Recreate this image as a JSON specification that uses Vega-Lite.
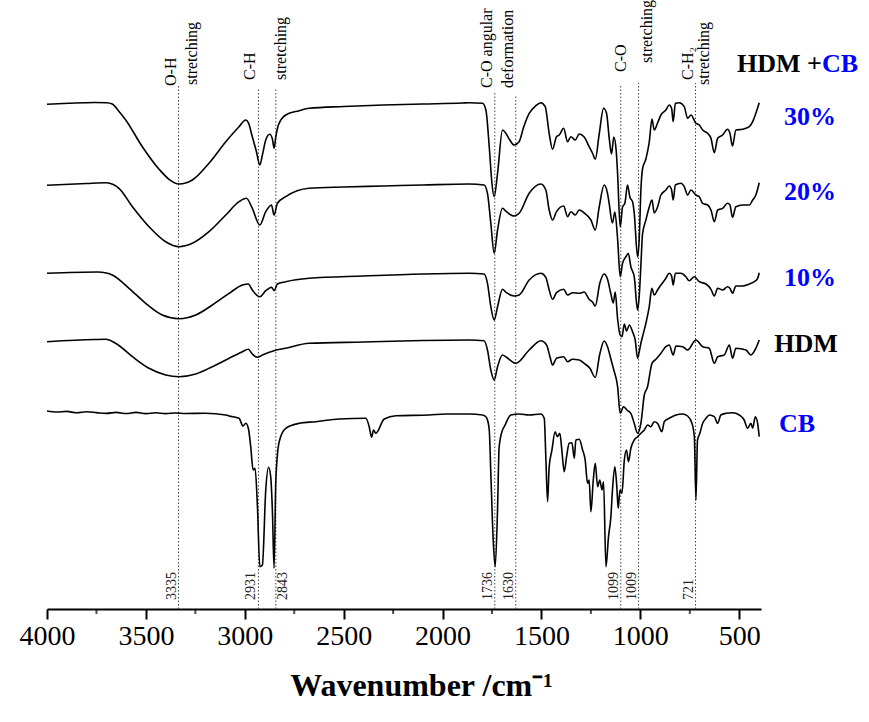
{
"$schema":"https://vega.github.io/schema/vega-lite/v6.json",
"width":714,"height":604,
"autosize":{"type":"none"},
"padding":{"left":47,"top":5,"right":108,"bottom":113},
"background":"white",
"config":{"view":{"stroke":null},"font":"Liberation Serif",
"style":{"guide-label":{"font":"Liberation Serif, Times New Roman, serif","fontSize":28,"fill":"black"},"guide-title":{"font":"Liberation Serif","fontSize":32,"fontWeight":"bold","fill":"black"}},
"axis":{"labelFont":"Liberation Serif, Times New Roman, serif","titleFont":"Liberation Serif","labelFontSize":28,"labelColor":"black","titleFontSize":32,"titleFontWeight":"bold","titleColor":"black"}},
"datasets":{
"spectra":[
{"sample":"30%","wavenumber":4000,"value":504.7},{"sample":"30%","wavenumber":3889,"value":505.7},{"sample":"30%","wavenumber":3760,"value":506.5},{"sample":"30%","wavenumber":3700,"value":506.2},{"sample":"30%","wavenumber":3670,"value":505},{"sample":"30%","wavenumber":3640,"value":498.5},{"sample":"30%","wavenumber":3602,"value":489},{"sample":"30%","wavenumber":3518,"value":462.3},{"sample":"30%","wavenumber":3433,"value":439.7},{"sample":"30%","wavenumber":3383,"value":429.7},{"sample":"30%","wavenumber":3332,"value":425},{"sample":"30%","wavenumber":3265,"value":429},{"sample":"30%","wavenumber":3181,"value":445.7},{"sample":"30%","wavenumber":3096,"value":467.3},{"sample":"30%","wavenumber":3029,"value":482.3},{"sample":"30%","wavenumber":2995,"value":489},{"sample":"30%","wavenumber":2982,"value":486.3},{"sample":"30%","wavenumber":2962,"value":472.3},{"sample":"30%","wavenumber":2941,"value":457.3},{"sample":"30%","wavenumber":2924,"value":444},{"sample":"30%","wavenumber":2911,"value":454},{"sample":"30%","wavenumber":2894,"value":469},{"sample":"30%","wavenumber":2874,"value":474.7},{"sample":"30%","wavenumber":2860,"value":469.7},{"sample":"30%","wavenumber":2852,"value":460.7},{"sample":"30%","wavenumber":2843,"value":472.3},{"sample":"30%","wavenumber":2830,"value":484},{"sample":"30%","wavenumber":2793,"value":494},{"sample":"30%","wavenumber":2725,"value":498.3},{"sample":"30%","wavenumber":2675,"value":500.7},{"sample":"30%","wavenumber":2500,"value":502.5},{"sample":"30%","wavenumber":2300,"value":504},{"sample":"30%","wavenumber":2100,"value":505},{"sample":"30%","wavenumber":1900,"value":506},{"sample":"30%","wavenumber":1865,"value":506.3},{"sample":"30%","wavenumber":1798,"value":505.7},{"sample":"30%","wavenumber":1781,"value":499},{"sample":"30%","wavenumber":1764,"value":462.3},{"sample":"30%","wavenumber":1750,"value":425},{"sample":"30%","wavenumber":1739,"value":412.3},{"sample":"30%","wavenumber":1722,"value":435.7},{"sample":"30%","wavenumber":1697,"value":479},{"sample":"30%","wavenumber":1680,"value":475.7},{"sample":"30%","wavenumber":1660,"value":469},{"sample":"30%","wavenumber":1638,"value":464},{"sample":"30%","wavenumber":1613,"value":467.3},{"sample":"30%","wavenumber":1590,"value":482},{"sample":"30%","wavenumber":1562,"value":495.7},{"sample":"30%","wavenumber":1530,"value":503},{"sample":"30%","wavenumber":1503,"value":506.3},{"sample":"30%","wavenumber":1481,"value":502.3},{"sample":"30%","wavenumber":1461,"value":475.7},{"sample":"30%","wavenumber":1444,"value":459.7},{"sample":"30%","wavenumber":1424,"value":472.3},{"sample":"30%","wavenumber":1410,"value":474},{"sample":"30%","wavenumber":1388,"value":480.7},{"sample":"30%","wavenumber":1368,"value":467.3},{"sample":"30%","wavenumber":1351,"value":472.3},{"sample":"30%","wavenumber":1329,"value":469},{"sample":"30%","wavenumber":1309,"value":475},{"sample":"30%","wavenumber":1284,"value":472},{"sample":"30%","wavenumber":1259,"value":462.3},{"sample":"30%","wavenumber":1240,"value":455},{"sample":"30%","wavenumber":1228,"value":449.7},{"sample":"30%","wavenumber":1208,"value":475},{"sample":"30%","wavenumber":1186,"value":500.7},{"sample":"30%","wavenumber":1171,"value":495.7},{"sample":"30%","wavenumber":1157,"value":470},{"sample":"30%","wavenumber":1146,"value":455},{"sample":"30%","wavenumber":1134,"value":472},{"sample":"30%","wavenumber":1122,"value":458},{"sample":"30%","wavenumber":1115,"value":435},{"sample":"30%","wavenumber":1102,"value":382},{"sample":"30%","wavenumber":1090,"value":402},{"sample":"30%","wavenumber":1078,"value":406},{"sample":"30%","wavenumber":1065,"value":424},{"sample":"30%","wavenumber":1053,"value":412},{"sample":"30%","wavenumber":1039,"value":407},{"sample":"30%","wavenumber":1031,"value":396},{"sample":"30%","wavenumber":1014,"value":352},{"sample":"30%","wavenumber":1006,"value":369},{"sample":"30%","wavenumber":997,"value":420},{"sample":"30%","wavenumber":989,"value":440},{"sample":"30%","wavenumber":972,"value":450},{"sample":"30%","wavenumber":955,"value":467},{"sample":"30%","wavenumber":941,"value":490},{"sample":"30%","wavenumber":930,"value":479},{"sample":"30%","wavenumber":913,"value":486},{"sample":"30%","wavenumber":896,"value":494},{"sample":"30%","wavenumber":871,"value":499},{"sample":"30%","wavenumber":854,"value":504},{"sample":"30%","wavenumber":842,"value":500.7},{"sample":"30%","wavenumber":834,"value":487.3},{"sample":"30%","wavenumber":823,"value":505.7},{"sample":"30%","wavenumber":803,"value":506.3},{"sample":"30%","wavenumber":778,"value":502.3},{"sample":"30%","wavenumber":761,"value":490.7},{"sample":"30%","wavenumber":744,"value":494},{"sample":"30%","wavenumber":719,"value":485.7},{"sample":"30%","wavenumber":702,"value":484},{"sample":"30%","wavenumber":685,"value":479},{"sample":"30%","wavenumber":660,"value":475.7},{"sample":"30%","wavenumber":643,"value":470.7},{"sample":"30%","wavenumber":626,"value":456.3},{"sample":"30%","wavenumber":609,"value":470.7},{"sample":"30%","wavenumber":584,"value":474},{"sample":"30%","wavenumber":559,"value":479.7},{"sample":"30%","wavenumber":547,"value":475.7},{"sample":"30%","wavenumber":534,"value":463},{"sample":"30%","wavenumber":517,"value":479},{"sample":"30%","wavenumber":483,"value":479.7},{"sample":"30%","wavenumber":449,"value":482.3},{"sample":"30%","wavenumber":432,"value":487.3},{"sample":"30%","wavenumber":416,"value":495.7},{"sample":"30%","wavenumber":399,"value":506.3},
{"sample":"20%","wavenumber":4000,"value":423.7},{"sample":"20%","wavenumber":3800,"value":425.5},{"sample":"20%","wavenumber":3700,"value":426.2},{"sample":"20%","wavenumber":3665,"value":424.5},{"sample":"20%","wavenumber":3636,"value":420.7},{"sample":"20%","wavenumber":3568,"value":402.3},{"sample":"20%","wavenumber":3484,"value":382.3},{"sample":"20%","wavenumber":3400,"value":367.3},{"sample":"20%","wavenumber":3332,"value":362.3},{"sample":"20%","wavenumber":3265,"value":365.7},{"sample":"20%","wavenumber":3181,"value":377.3},{"sample":"20%","wavenumber":3096,"value":394},{"sample":"20%","wavenumber":3029,"value":407.3},{"sample":"20%","wavenumber":2992,"value":410.7},{"sample":"20%","wavenumber":2962,"value":400.7},{"sample":"20%","wavenumber":2924,"value":384},{"sample":"20%","wavenumber":2894,"value":397.3},{"sample":"20%","wavenumber":2865,"value":404},{"sample":"20%","wavenumber":2852,"value":394},{"sample":"20%","wavenumber":2835,"value":405.7},{"sample":"20%","wavenumber":2793,"value":412.3},{"sample":"20%","wavenumber":2675,"value":420.7},{"sample":"20%","wavenumber":2500,"value":422},{"sample":"20%","wavenumber":2300,"value":423},{"sample":"20%","wavenumber":2100,"value":424},{"sample":"20%","wavenumber":1865,"value":425},{"sample":"20%","wavenumber":1790,"value":424},{"sample":"20%","wavenumber":1773,"value":415.7},{"sample":"20%","wavenumber":1756,"value":385.7},{"sample":"20%","wavenumber":1739,"value":355.7},{"sample":"20%","wavenumber":1722,"value":379},{"sample":"20%","wavenumber":1697,"value":400.7},{"sample":"20%","wavenumber":1677,"value":397.3},{"sample":"20%","wavenumber":1638,"value":393},{"sample":"20%","wavenumber":1613,"value":395.7},{"sample":"20%","wavenumber":1562,"value":415.7},{"sample":"20%","wavenumber":1503,"value":425},{"sample":"20%","wavenumber":1478,"value":419},{"sample":"20%","wavenumber":1461,"value":399},{"sample":"20%","wavenumber":1444,"value":389},{"sample":"20%","wavenumber":1424,"value":397.3},{"sample":"20%","wavenumber":1388,"value":403},{"sample":"20%","wavenumber":1368,"value":392.3},{"sample":"20%","wavenumber":1351,"value":397.3},{"sample":"20%","wavenumber":1329,"value":394},{"sample":"20%","wavenumber":1309,"value":399},{"sample":"20%","wavenumber":1284,"value":396},{"sample":"20%","wavenumber":1250,"value":389},{"sample":"20%","wavenumber":1228,"value":379},{"sample":"20%","wavenumber":1208,"value":402},{"sample":"20%","wavenumber":1183,"value":424},{"sample":"20%","wavenumber":1166,"value":415.7},{"sample":"20%","wavenumber":1158,"value":406},{"sample":"20%","wavenumber":1141,"value":386},{"sample":"20%","wavenumber":1129,"value":397},{"sample":"20%","wavenumber":1115,"value":370},{"sample":"20%","wavenumber":1102,"value":332.3},{"sample":"20%","wavenumber":1090,"value":345.7},{"sample":"20%","wavenumber":1073,"value":352.3},{"sample":"20%","wavenumber":1061,"value":355.7},{"sample":"20%","wavenumber":1048,"value":342.3},{"sample":"20%","wavenumber":1031,"value":332.3},{"sample":"20%","wavenumber":1014,"value":299},{"sample":"20%","wavenumber":1005,"value":315},{"sample":"20%","wavenumber":997,"value":345},{"sample":"20%","wavenumber":989,"value":375},{"sample":"20%","wavenumber":972,"value":389},{"sample":"20%","wavenumber":955,"value":402},{"sample":"20%","wavenumber":941,"value":409},{"sample":"20%","wavenumber":930,"value":396},{"sample":"20%","wavenumber":913,"value":402},{"sample":"20%","wavenumber":896,"value":414},{"sample":"20%","wavenumber":871,"value":419},{"sample":"20%","wavenumber":854,"value":423},{"sample":"20%","wavenumber":842,"value":419},{"sample":"20%","wavenumber":834,"value":409},{"sample":"20%","wavenumber":823,"value":424},{"sample":"20%","wavenumber":795,"value":425.7},{"sample":"20%","wavenumber":778,"value":422.3},{"sample":"20%","wavenumber":761,"value":414},{"sample":"20%","wavenumber":744,"value":419},{"sample":"20%","wavenumber":719,"value":414},{"sample":"20%","wavenumber":702,"value":412.3},{"sample":"20%","wavenumber":685,"value":405.7},{"sample":"20%","wavenumber":660,"value":404},{"sample":"20%","wavenumber":643,"value":399},{"sample":"20%","wavenumber":626,"value":387.3},{"sample":"20%","wavenumber":609,"value":399},{"sample":"20%","wavenumber":584,"value":400.7},{"sample":"20%","wavenumber":559,"value":405.7},{"sample":"20%","wavenumber":547,"value":404},{"sample":"20%","wavenumber":534,"value":391.7},{"sample":"20%","wavenumber":517,"value":402.3},{"sample":"20%","wavenumber":483,"value":404},{"sample":"20%","wavenumber":449,"value":404},{"sample":"20%","wavenumber":432,"value":409},{"sample":"20%","wavenumber":416,"value":414},{"sample":"20%","wavenumber":399,"value":426.3},
{"sample":"10%","wavenumber":4000,"value":335.7},{"sample":"10%","wavenumber":3745,"value":337},{"sample":"10%","wavenumber":3700,"value":336},{"sample":"10%","wavenumber":3670,"value":334},{"sample":"10%","wavenumber":3585,"value":320.7},{"sample":"10%","wavenumber":3501,"value":305.7},{"sample":"10%","wavenumber":3417,"value":294},{"sample":"10%","wavenumber":3332,"value":290.3},{"sample":"10%","wavenumber":3248,"value":294},{"sample":"10%","wavenumber":3164,"value":304},{"sample":"10%","wavenumber":3079,"value":315.7},{"sample":"10%","wavenumber":3012,"value":324},{"sample":"10%","wavenumber":2982,"value":325},{"sample":"10%","wavenumber":2962,"value":319},{"sample":"10%","wavenumber":2924,"value":312.3},{"sample":"10%","wavenumber":2894,"value":318.3},{"sample":"10%","wavenumber":2864,"value":321.7},{"sample":"10%","wavenumber":2852,"value":318.3},{"sample":"10%","wavenumber":2835,"value":325},{"sample":"10%","wavenumber":2793,"value":327.3},{"sample":"10%","wavenumber":2675,"value":330.7},{"sample":"10%","wavenumber":2400,"value":333},{"sample":"10%","wavenumber":2100,"value":335},{"sample":"10%","wavenumber":1865,"value":335.7},{"sample":"10%","wavenumber":1790,"value":335},{"sample":"10%","wavenumber":1773,"value":325.7},{"sample":"10%","wavenumber":1756,"value":302.3},{"sample":"10%","wavenumber":1739,"value":289},{"sample":"10%","wavenumber":1722,"value":302.3},{"sample":"10%","wavenumber":1697,"value":319.7},{"sample":"10%","wavenumber":1677,"value":316.3},{"sample":"10%","wavenumber":1638,"value":313},{"sample":"10%","wavenumber":1613,"value":314},{"sample":"10%","wavenumber":1562,"value":329},{"sample":"10%","wavenumber":1503,"value":335.7},{"sample":"10%","wavenumber":1478,"value":331.7},{"sample":"10%","wavenumber":1461,"value":319},{"sample":"10%","wavenumber":1444,"value":309.7},{"sample":"10%","wavenumber":1424,"value":316.3},{"sample":"10%","wavenumber":1388,"value":319.7},{"sample":"10%","wavenumber":1368,"value":314},{"sample":"10%","wavenumber":1343,"value":316.3},{"sample":"10%","wavenumber":1309,"value":315.7},{"sample":"10%","wavenumber":1284,"value":317},{"sample":"10%","wavenumber":1259,"value":309.7},{"sample":"10%","wavenumber":1242,"value":307},{"sample":"10%","wavenumber":1228,"value":303},{"sample":"10%","wavenumber":1205,"value":325.7},{"sample":"10%","wavenumber":1183,"value":335},{"sample":"10%","wavenumber":1166,"value":329.7},{"sample":"10%","wavenumber":1149,"value":315},{"sample":"10%","wavenumber":1137,"value":306},{"sample":"10%","wavenumber":1127,"value":317},{"sample":"10%","wavenumber":1115,"value":290},{"sample":"10%","wavenumber":1102,"value":274},{"sample":"10%","wavenumber":1093,"value":272.3},{"sample":"10%","wavenumber":1081,"value":285},{"sample":"10%","wavenumber":1070,"value":278},{"sample":"10%","wavenumber":1056,"value":284},{"sample":"10%","wavenumber":1039,"value":277},{"sample":"10%","wavenumber":1026,"value":269},{"sample":"10%","wavenumber":1014,"value":250.7},{"sample":"10%","wavenumber":1005,"value":258},{"sample":"10%","wavenumber":997,"value":266},{"sample":"10%","wavenumber":989,"value":272.3},{"sample":"10%","wavenumber":972,"value":285.7},{"sample":"10%","wavenumber":955,"value":302.3},{"sample":"10%","wavenumber":942,"value":320.7},{"sample":"10%","wavenumber":930,"value":314},{"sample":"10%","wavenumber":913,"value":319},{"sample":"10%","wavenumber":896,"value":324},{"sample":"10%","wavenumber":871,"value":330.7},{"sample":"10%","wavenumber":854,"value":335.7},{"sample":"10%","wavenumber":842,"value":333},{"sample":"10%","wavenumber":834,"value":324},{"sample":"10%","wavenumber":823,"value":335.7},{"sample":"10%","wavenumber":795,"value":335.7},{"sample":"10%","wavenumber":770,"value":332.3},{"sample":"10%","wavenumber":753,"value":328.3},{"sample":"10%","wavenumber":727,"value":332.3},{"sample":"10%","wavenumber":702,"value":327.3},{"sample":"10%","wavenumber":668,"value":325},{"sample":"10%","wavenumber":643,"value":319.7},{"sample":"10%","wavenumber":626,"value":313},{"sample":"10%","wavenumber":609,"value":320.7},{"sample":"10%","wavenumber":584,"value":319},{"sample":"10%","wavenumber":559,"value":322.3},{"sample":"10%","wavenumber":547,"value":320.7},{"sample":"10%","wavenumber":534,"value":315.7},{"sample":"10%","wavenumber":517,"value":323},{"sample":"10%","wavenumber":483,"value":323},{"sample":"10%","wavenumber":449,"value":325},{"sample":"10%","wavenumber":424,"value":327.3},{"sample":"10%","wavenumber":407,"value":330.7},{"sample":"10%","wavenumber":399,"value":336.3},
{"sample":"HDM","wavenumber":4000,"value":267.3},{"sample":"HDM","wavenumber":3760,"value":269.5},{"sample":"HDM","wavenumber":3703,"value":269.7},{"sample":"HDM","wavenumber":3653,"value":265.7},{"sample":"HDM","wavenumber":3568,"value":252.3},{"sample":"HDM","wavenumber":3484,"value":240.7},{"sample":"HDM","wavenumber":3400,"value":234},{"sample":"HDM","wavenumber":3332,"value":232.3},{"sample":"HDM","wavenumber":3248,"value":235},{"sample":"HDM","wavenumber":3164,"value":242.3},{"sample":"HDM","wavenumber":3079,"value":250.7},{"sample":"HDM","wavenumber":3012,"value":257.3},{"sample":"HDM","wavenumber":2982,"value":259.7},{"sample":"HDM","wavenumber":2962,"value":255},{"sample":"HDM","wavenumber":2936,"value":251.7},{"sample":"HDM","wavenumber":2911,"value":254},{"sample":"HDM","wavenumber":2852,"value":258.3},{"sample":"HDM","wavenumber":2793,"value":260.7},{"sample":"HDM","wavenumber":2675,"value":265.7},{"sample":"HDM","wavenumber":2400,"value":267},{"sample":"HDM","wavenumber":2100,"value":268.5},{"sample":"HDM","wavenumber":1865,"value":269},{"sample":"HDM","wavenumber":1790,"value":268.3},{"sample":"HDM","wavenumber":1773,"value":259},{"sample":"HDM","wavenumber":1756,"value":239},{"sample":"HDM","wavenumber":1739,"value":229},{"sample":"HDM","wavenumber":1722,"value":242.3},{"sample":"HDM","wavenumber":1697,"value":254},{"sample":"HDM","wavenumber":1677,"value":251.7},{"sample":"HDM","wavenumber":1629,"value":245.7},{"sample":"HDM","wavenumber":1562,"value":259},{"sample":"HDM","wavenumber":1503,"value":268.3},{"sample":"HDM","wavenumber":1474,"value":264},{"sample":"HDM","wavenumber":1457,"value":252.3},{"sample":"HDM","wavenumber":1444,"value":244},{"sample":"HDM","wavenumber":1424,"value":250.7},{"sample":"HDM","wavenumber":1388,"value":252.3},{"sample":"HDM","wavenumber":1368,"value":247.3},{"sample":"HDM","wavenumber":1343,"value":249.7},{"sample":"HDM","wavenumber":1309,"value":249},{"sample":"HDM","wavenumber":1284,"value":245.7},{"sample":"HDM","wavenumber":1255,"value":240.7},{"sample":"HDM","wavenumber":1228,"value":231.5},{"sample":"HDM","wavenumber":1205,"value":255},{"sample":"HDM","wavenumber":1183,"value":268},{"sample":"HDM","wavenumber":1166,"value":262.3},{"sample":"HDM","wavenumber":1149,"value":250},{"sample":"HDM","wavenumber":1135,"value":239.5},{"sample":"HDM","wavenumber":1115,"value":222.3},{"sample":"HDM","wavenumber":1102,"value":195.7},{"sample":"HDM","wavenumber":1085,"value":202.3},{"sample":"HDM","wavenumber":1068,"value":199},{"sample":"HDM","wavenumber":1048,"value":195.7},{"sample":"HDM","wavenumber":1031,"value":185.7},{"sample":"HDM","wavenumber":1014,"value":175.7},{"sample":"HDM","wavenumber":997,"value":186},{"sample":"HDM","wavenumber":980,"value":214},{"sample":"HDM","wavenumber":964,"value":222},{"sample":"HDM","wavenumber":941,"value":245.7},{"sample":"HDM","wavenumber":920,"value":250},{"sample":"HDM","wavenumber":896,"value":255.7},{"sample":"HDM","wavenumber":871,"value":262.3},{"sample":"HDM","wavenumber":854,"value":264},{"sample":"HDM","wavenumber":834,"value":254},{"sample":"HDM","wavenumber":820,"value":263},{"sample":"HDM","wavenumber":786,"value":262.3},{"sample":"HDM","wavenumber":761,"value":259},{"sample":"HDM","wavenumber":719,"value":269},{"sample":"HDM","wavenumber":685,"value":262.3},{"sample":"HDM","wavenumber":652,"value":260.7},{"sample":"HDM","wavenumber":626,"value":245.7},{"sample":"HDM","wavenumber":609,"value":252.3},{"sample":"HDM","wavenumber":576,"value":254},{"sample":"HDM","wavenumber":550,"value":264},{"sample":"HDM","wavenumber":534,"value":250.7},{"sample":"HDM","wavenumber":517,"value":260.7},{"sample":"HDM","wavenumber":466,"value":259},{"sample":"HDM","wavenumber":441,"value":254},{"sample":"HDM","wavenumber":416,"value":260.7},{"sample":"HDM","wavenumber":399,"value":269},
{"sample":"CB","wavenumber":4000,"value":198},{"sample":"CB","wavenumber":3950,"value":197},{"sample":"CB","wavenumber":3900,"value":197.6},{"sample":"CB","wavenumber":3850,"value":196.2},{"sample":"CB","wavenumber":3800,"value":197.2},{"sample":"CB","wavenumber":3750,"value":196.4},{"sample":"CB","wavenumber":3700,"value":195.6},{"sample":"CB","wavenumber":3650,"value":196.6},{"sample":"CB","wavenumber":3600,"value":195.5},{"sample":"CB","wavenumber":3550,"value":196.6},{"sample":"CB","wavenumber":3500,"value":195.4},{"sample":"CB","wavenumber":3450,"value":196.2},{"sample":"CB","wavenumber":3400,"value":195.4},{"sample":"CB","wavenumber":3350,"value":196},{"sample":"CB","wavenumber":3300,"value":195.5},{"sample":"CB","wavenumber":3200,"value":195.7},{"sample":"CB","wavenumber":3096,"value":194},{"sample":"CB","wavenumber":3079,"value":193},{"sample":"CB","wavenumber":3029,"value":190.7},{"sample":"CB","wavenumber":3009,"value":183},{"sample":"CB","wavenumber":2995,"value":185.7},{"sample":"CB","wavenumber":2982,"value":180.7},{"sample":"CB","wavenumber":2970,"value":162.3},{"sample":"CB","wavenumber":2958,"value":139},{"sample":"CB","wavenumber":2948,"value":140.7},{"sample":"CB","wavenumber":2936,"value":102.3},{"sample":"CB","wavenumber":2924,"value":42.3},{"sample":"CB","wavenumber":2911,"value":44},{"sample":"CB","wavenumber":2894,"value":119},{"sample":"CB","wavenumber":2880,"value":141.7},{"sample":"CB","wavenumber":2869,"value":132.3},{"sample":"CB","wavenumber":2860,"value":95.7},{"sample":"CB","wavenumber":2852,"value":40.7},{"sample":"CB","wavenumber":2843,"value":129},{"sample":"CB","wavenumber":2826,"value":167.3},{"sample":"CB","wavenumber":2793,"value":180.7},{"sample":"CB","wavenumber":2725,"value":185.7},{"sample":"CB","wavenumber":2641,"value":187.3},{"sample":"CB","wavenumber":2523,"value":190},{"sample":"CB","wavenumber":2388,"value":190.7},{"sample":"CB","wavenumber":2371,"value":182.3},{"sample":"CB","wavenumber":2359,"value":171.7},{"sample":"CB","wavenumber":2349,"value":179},{"sample":"CB","wavenumber":2338,"value":175.7},{"sample":"CB","wavenumber":2295,"value":190},{"sample":"CB","wavenumber":2236,"value":193.3},{"sample":"CB","wavenumber":2068,"value":194},{"sample":"CB","wavenumber":1983,"value":195},{"sample":"CB","wavenumber":1865,"value":195},{"sample":"CB","wavenumber":1798,"value":194},{"sample":"CB","wavenumber":1781,"value":192.3},{"sample":"CB","wavenumber":1773,"value":189},{"sample":"CB","wavenumber":1764,"value":179},{"sample":"CB","wavenumber":1756,"value":135.7},{"sample":"CB","wavenumber":1744,"value":69},{"sample":"CB","wavenumber":1734,"value":42.3},{"sample":"CB","wavenumber":1722,"value":100},{"sample":"CB","wavenumber":1714,"value":162},{"sample":"CB","wavenumber":1697,"value":179},{"sample":"CB","wavenumber":1688,"value":182.3},{"sample":"CB","wavenumber":1655,"value":194},{"sample":"CB","wavenumber":1613,"value":195},{"sample":"CB","wavenumber":1562,"value":194},{"sample":"CB","wavenumber":1503,"value":195},{"sample":"CB","wavenumber":1486,"value":190.7},{"sample":"CB","wavenumber":1478,"value":152.3},{"sample":"CB","wavenumber":1469,"value":107.3},{"sample":"CB","wavenumber":1461,"value":142.3},{"sample":"CB","wavenumber":1447,"value":159},{"sample":"CB","wavenumber":1431,"value":177.3},{"sample":"CB","wavenumber":1419,"value":172.3},{"sample":"CB","wavenumber":1407,"value":175.7},{"sample":"CB","wavenumber":1397,"value":159},{"sample":"CB","wavenumber":1385,"value":137.3},{"sample":"CB","wavenumber":1373,"value":152.3},{"sample":"CB","wavenumber":1360,"value":165.7},{"sample":"CB","wavenumber":1346,"value":166.3},{"sample":"CB","wavenumber":1334,"value":150.7},{"sample":"CB","wavenumber":1326,"value":169},{"sample":"CB","wavenumber":1309,"value":169.7},{"sample":"CB","wavenumber":1292,"value":159},{"sample":"CB","wavenumber":1279,"value":149},{"sample":"CB","wavenumber":1267,"value":125.7},{"sample":"CB","wavenumber":1259,"value":129},{"sample":"CB","wavenumber":1250,"value":97.3},{"sample":"CB","wavenumber":1238,"value":129},{"sample":"CB","wavenumber":1228,"value":145.7},{"sample":"CB","wavenumber":1216,"value":122.3},{"sample":"CB","wavenumber":1205,"value":129},{"sample":"CB","wavenumber":1194,"value":119},{"sample":"CB","wavenumber":1186,"value":127.3},{"sample":"CB","wavenumber":1174,"value":42.3},{"sample":"CB","wavenumber":1161,"value":72.3},{"sample":"CB","wavenumber":1149,"value":92.3},{"sample":"CB","wavenumber":1141,"value":119},{"sample":"CB","wavenumber":1129,"value":142.3},{"sample":"CB","wavenumber":1119,"value":122.3},{"sample":"CB","wavenumber":1112,"value":100.7},{"sample":"CB","wavenumber":1103,"value":119},{"sample":"CB","wavenumber":1093,"value":115.7},{"sample":"CB","wavenumber":1081,"value":149},{"sample":"CB","wavenumber":1070,"value":159},{"sample":"CB","wavenumber":1060,"value":147.3},{"sample":"CB","wavenumber":1048,"value":160.7},{"sample":"CB","wavenumber":1031,"value":169},{"sample":"CB","wavenumber":1014,"value":172.3},{"sample":"CB","wavenumber":997,"value":175.7},{"sample":"CB","wavenumber":980,"value":179},{"sample":"CB","wavenumber":963,"value":184},{"sample":"CB","wavenumber":947,"value":182.3},{"sample":"CB","wavenumber":930,"value":187.3},{"sample":"CB","wavenumber":913,"value":185.7},{"sample":"CB","wavenumber":891,"value":177.3},{"sample":"CB","wavenumber":879,"value":187.3},{"sample":"CB","wavenumber":854,"value":190.7},{"sample":"CB","wavenumber":820,"value":194},{"sample":"CB","wavenumber":786,"value":195},{"sample":"CB","wavenumber":761,"value":193},{"sample":"CB","wavenumber":739,"value":185.7},{"sample":"CB","wavenumber":727,"value":172.3},{"sample":"CB","wavenumber":719,"value":109},{"sample":"CB","wavenumber":711,"value":169},{"sample":"CB","wavenumber":699,"value":175.7},{"sample":"CB","wavenumber":685,"value":185.7},{"sample":"CB","wavenumber":668,"value":190.7},{"sample":"CB","wavenumber":651,"value":194},{"sample":"CB","wavenumber":626,"value":192.3},{"sample":"CB","wavenumber":609,"value":185.7},{"sample":"CB","wavenumber":593,"value":194},{"sample":"CB","wavenumber":567,"value":195.7},{"sample":"CB","wavenumber":534,"value":196.3},{"sample":"CB","wavenumber":500,"value":194},{"sample":"CB","wavenumber":475,"value":189},{"sample":"CB","wavenumber":458,"value":180.7},{"sample":"CB","wavenumber":441,"value":185.7},{"sample":"CB","wavenumber":432,"value":180.7},{"sample":"CB","wavenumber":419,"value":192.3},{"sample":"CB","wavenumber":407,"value":185.7},{"sample":"CB","wavenumber":399,"value":172.3}
],
"bands":[
{"wavenumber":3335,"value":0,"top":524},{"wavenumber":2931,"value":0,"top":521},{"wavenumber":2843,"value":0,"top":521},{"wavenumber":1736,"value":0,"top":516},{"wavenumber":1630,"value":0,"top":514},{"wavenumber":1099,"value":0,"top":523},{"wavenumber":1009,"value":0,"top":526},{"wavenumber":721,"value":0,"top":526}
]
},
"encoding":{
"x":{"field":"wavenumber","type":"quantitative","scale":{"domain":[390,4000],"reverse":true,"nice":false,"zero":false},"title":"Wavenumber /cm⁻¹",
"axis":{"values":[4000,3500,3000,2500,2000,1500,1000,500],"format":"d","grid":false,"tickSize":10,"tickWidth":2,"tickColor":"black","domainColor":"black","domainWidth":2,"labelFont":"Liberation Serif, Times New Roman, serif","labelFontSize":28,"labelColor":"black","labelPadding":3,"labelFlush":false,"titleFont":"Liberation Serif","titleFontSize":32,"titleFontWeight":"bold","titleColor":"black","titlePadding":20,"titleX":374}},
"y":{"field":"value","type":"quantitative","scale":{"domain":[0,604],"nice":false,"zero":false},"axis":null}
},
"layer":[
{"data":{"name":"bands"},"mark":{"type":"rule","color":"#444444","strokeWidth":1,"strokeDash":[1.5,2]},"encoding":{"y2":{"field":"top"}}},
{"data":{"name":"spectra"},"mark":{"type":"line","color":"black","strokeWidth":1.6,"interpolate":"monotone"},"encoding":{"detail":{"field":"sample","type":"nominal"}}},
{"data":{"values":[{"wavenumber":3750,"value":0},{"wavenumber":3250,"value":0},{"wavenumber":2750,"value":0},{"wavenumber":2250,"value":0},{"wavenumber":1750,"value":0},{"wavenumber":1250,"value":0},{"wavenumber":750,"value":0}]},"mark":{"type":"tick","orient":"vertical","size":5,"thickness":2,"yOffset":2.5,"color":"black"}},
{"data":{"values":[{"wavenumber":3335,"value":523,"label":"O-H"},{"wavenumber":2931,"value":529,"label":"C-H"},{"wavenumber":1736,"value":521,"label":"C-O angular"},{"wavenumber":1630,"value":521,"label":"deformation"},{"wavenumber":721,"value":529,"label":"C-H₂"}]},"mark":{"type":"text","angle":270,"align":"left","baseline":"bottom","font":"Liberation Serif","fontSize":16,"color":"black"},"encoding":{"text":{"field":"label"}}},
{"data":{"values":[{"wavenumber":3335,"value":524,"label":"stretching"}]},"mark":{"type":"text","angle":270,"align":"left","baseline":"top","dy":5,"font":"Liberation Serif","fontSize":16,"color":"black"},"encoding":{"text":{"field":"label"}}},
{"data":{"values":[{"wavenumber":2843,"value":529,"label":"stretching"}]},"mark":{"type":"text","angle":270,"align":"left","baseline":"top","dy":-3,"font":"Liberation Serif","fontSize":16,"color":"black"},"encoding":{"text":{"field":"label"}}},
{"data":{"values":[{"wavenumber":1009,"value":546,"label":"stretching"},{"wavenumber":721,"value":524,"label":"stretching"}]},"mark":{"type":"text","angle":270,"align":"left","baseline":"top","font":"Liberation Serif","fontSize":16,"color":"black"},"encoding":{"text":{"field":"label"}}},
{"data":{"values":[{"wavenumber":1099,"value":537,"label":"C-O"}]},"mark":{"type":"text","angle":270,"align":"left","baseline":"middle","font":"Liberation Serif","fontSize":16,"color":"black"},"encoding":{"text":{"field":"label"}}},
{"data":{"values":[{"wavenumber":3335,"value":9,"label":"3335"},{"wavenumber":2931,"value":9,"label":"2931"},{"wavenumber":1736,"value":9,"label":"1736"},{"wavenumber":1630,"value":9,"label":"1630"},{"wavenumber":1099,"value":9,"label":"1099"},{"wavenumber":1009,"value":9,"label":"1009"},{"wavenumber":721,"value":9,"label":"721"}]},"mark":{"type":"text","angle":270,"align":"left","baseline":"bottom","font":"Liberation Serif","fontSize":14,"color":"#222222"},"encoding":{"text":{"field":"label"}}},
{"data":{"values":[{"wavenumber":2843,"value":9,"label":"2843"}]},"mark":{"type":"text","angle":270,"align":"left","baseline":"top","font":"Liberation Serif","fontSize":14,"color":"#222222"},"encoding":{"text":{"field":"label"}}},
{"data":{"values":[{"wavenumber":142,"value":492,"label":"30%","group":"CB"},{"wavenumber":142,"value":417,"label":"20%","group":"CB"},{"wavenumber":142,"value":331,"label":"10%","group":"CB"},{"wavenumber":162,"value":265,"label":"HDM","group":"HDM"},{"wavenumber":208,"value":185,"label":"CB","group":"CB"}]},"mark":{"type":"text","align":"center","baseline":"middle","font":"Liberation Serif","fontSize":26,"fontWeight":"bold"},"encoding":{"text":{"field":"label"},"color":{"field":"group","type":"nominal","scale":{"domain":["HDM","CB"],"range":["#000000","#0000FF"]},"legend":null}}},
{"data":{"values":[{"wavenumber":82,"value":545,"label":"HDM +","group":"HDM"}]},"mark":{"type":"text","align":"right","baseline":"middle","font":"Liberation Serif","fontSize":26,"fontWeight":"bold"},"encoding":{"text":{"field":"label"},"color":{"field":"group","type":"nominal","scale":{"domain":["HDM","CB"],"range":["#000000","#0000FF"]},"legend":null}}},
{"data":{"values":[{"wavenumber":82,"value":545,"label":"CB","group":"CB"}]},"mark":{"type":"text","align":"left","baseline":"middle","font":"Liberation Serif","fontSize":26,"fontWeight":"bold"},"encoding":{"text":{"field":"label"},"color":{"field":"group","type":"nominal","scale":{"domain":["HDM","CB"],"range":["#000000","#0000FF"]},"legend":null}}}
]
}
